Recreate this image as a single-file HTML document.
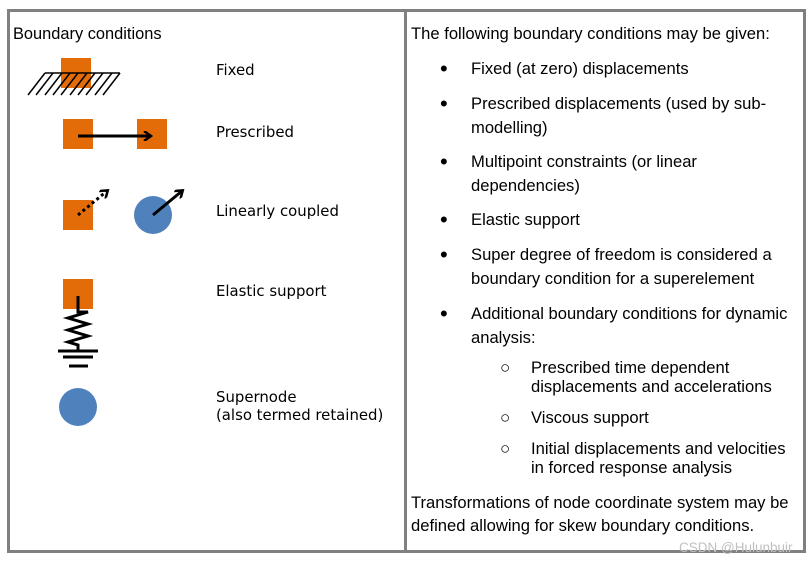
<!DOCTYPE html>
<html><head><meta charset="utf-8"><style>
body{margin:0;width:812px;height:563px;background:#fff;position:relative;overflow:hidden;font-family:"Liberation Sans",Arial,sans-serif;color:#000}
.t{position:absolute;font-size:16.6px;line-height:18px;white-space:nowrap}
.l{position:absolute;font-family:"DejaVu Sans",Verdana,sans-serif;font-size:14.9px;line-height:18px;white-space:nowrap}
.b{position:absolute;background:#808080}
.d{position:absolute;font-size:22px;line-height:18px}
.o{position:absolute;font-size:17px;line-height:18px}
</style></head><body>
<div class="b" style="left:7px;top:9px;width:799px;height:3px"></div>
<div class="b" style="left:7px;top:550px;width:799px;height:3px"></div>
<div class="b" style="left:7px;top:9px;width:3px;height:544px"></div>
<div class="b" style="left:404px;top:9px;width:3px;height:544px"></div>
<div class="b" style="left:803px;top:9px;width:3px;height:544px"></div>

<div class="t" style="left:13px;top:25px;font-size:16.4px">Boundary conditions</div>
<div class="l" style="left:216px;top:61px">Fixed</div>
<div class="l" style="left:216px;top:123px">Prescribed</div>
<div class="l" style="left:216px;top:202px">Linearly coupled</div>
<div class="l" style="left:216px;top:282px">Elastic support</div>
<div class="l" style="left:216px;top:388px">Supernode</div>
<div class="l" style="left:216px;top:406px">(also termed retained)</div>

<svg width="812" height="563" style="position:absolute;left:0;top:0">
<defs><marker id="ah" markerWidth="10" markerHeight="10" refX="7" refY="5" orient="auto" markerUnits="userSpaceOnUse"><path d="M1,0 L8,5 L1,10" fill="none" stroke="#000" stroke-width="2.5"/></marker></defs>
<rect x="61" y="58" width="30" height="30" fill="#e36c09"/>
<line x1="45" y1="73" x2="120" y2="73" stroke="#000" stroke-width="1.5"/>
<g stroke="#000" stroke-width="1.5">
<line x1="45" y1="73" x2="28" y2="95"/><line x1="53" y1="73" x2="36" y2="95"/><line x1="62" y1="73" x2="45" y2="95"/><line x1="70" y1="73" x2="53" y2="95"/><line x1="78" y1="73" x2="61" y2="95"/><line x1="87" y1="73" x2="70" y2="95"/><line x1="95" y1="73" x2="78" y2="95"/><line x1="103" y1="73" x2="86" y2="95"/><line x1="112" y1="73" x2="95" y2="95"/><line x1="120" y1="73" x2="103" y2="95"/>
</g>
<rect x="63" y="119" width="30" height="30" fill="#e36c09"/>
<rect x="137" y="119" width="30" height="30" fill="#e36c09"/>
<line x1="78" y1="136" x2="150" y2="136" stroke="#000" stroke-width="3" marker-end="url(#ah)"/>
<rect x="63" y="200" width="30" height="30" fill="#e36c09"/>
<line x1="78" y1="215" x2="107" y2="191" stroke="#000" stroke-width="3" stroke-dasharray="3,3" marker-end="url(#ah)"/>
<circle cx="153" cy="215" r="19" fill="#4f81bd"/>
<line x1="153" y1="215" x2="182" y2="191" stroke="#000" stroke-width="3" marker-end="url(#ah)"/>
<rect x="63" y="279" width="30" height="30" fill="#e36c09"/>
<polyline points="78,296 78,312 88,312 68,318 88,324 68,330 88,336 68,342 78,345 78,351" fill="none" stroke="#000" stroke-width="3"/>
<line x1="58" y1="351" x2="98" y2="351" stroke="#000" stroke-width="3"/>
<line x1="63" y1="357" x2="93" y2="357" stroke="#000" stroke-width="3"/>
<line x1="69" y1="366" x2="88" y2="366" stroke="#000" stroke-width="3"/>
<circle cx="78" cy="407" r="19" fill="#4f81bd"/>
</svg>

<div class="t" style="left:411px;top:25px">The following boundary conditions may be given:</div>
<div class="d" style="left:440px;top:60px">•</div><div class="t" style="left:471px;top:60px">Fixed (at zero) displacements</div>
<div class="d" style="left:440px;top:95px">•</div><div class="t" style="left:471px;top:95px">Prescribed displacements (used by sub-</div>
<div class="t" style="left:471px;top:119px">modelling)</div>
<div class="d" style="left:440px;top:153px">•</div><div class="t" style="left:471px;top:153px">Multipoint constraints (or linear</div>
<div class="t" style="left:471px;top:177px">dependencies)</div>
<div class="d" style="left:440px;top:211px">•</div><div class="t" style="left:471px;top:211px">Elastic support</div>
<div class="d" style="left:440px;top:246px">•</div><div class="t" style="left:471px;top:246px">Super degree of freedom is considered a</div>
<div class="t" style="left:471px;top:270px">boundary condition for a superelement</div>
<div class="d" style="left:440px;top:305px">•</div><div class="t" style="left:471px;top:305px">Additional boundary conditions for dynamic</div>
<div class="t" style="left:471px;top:329px">analysis:</div>
<div class="o" style="left:500px;top:359px">○</div><div class="t" style="left:531px;top:359px">Prescribed time dependent</div>
<div class="t" style="left:531px;top:378px">displacements and accelerations</div>
<div class="o" style="left:500px;top:409px">○</div><div class="t" style="left:531px;top:409px">Viscous support</div>
<div class="o" style="left:500px;top:440px">○</div><div class="t" style="left:531px;top:440px">Initial displacements and velocities</div>
<div class="t" style="left:531px;top:459px">in forced response analysis</div>
<div class="t" style="left:411px;top:494px">Transformations of node coordinate system may be</div>
<div class="t" style="left:411px;top:517px">defined allowing for skew boundary conditions.</div>
<div class="t" style="left:679px;top:539px;font-size:13.5px;color:#c0c0c0">CSDN @Hulunbuir</div>
</body></html>
